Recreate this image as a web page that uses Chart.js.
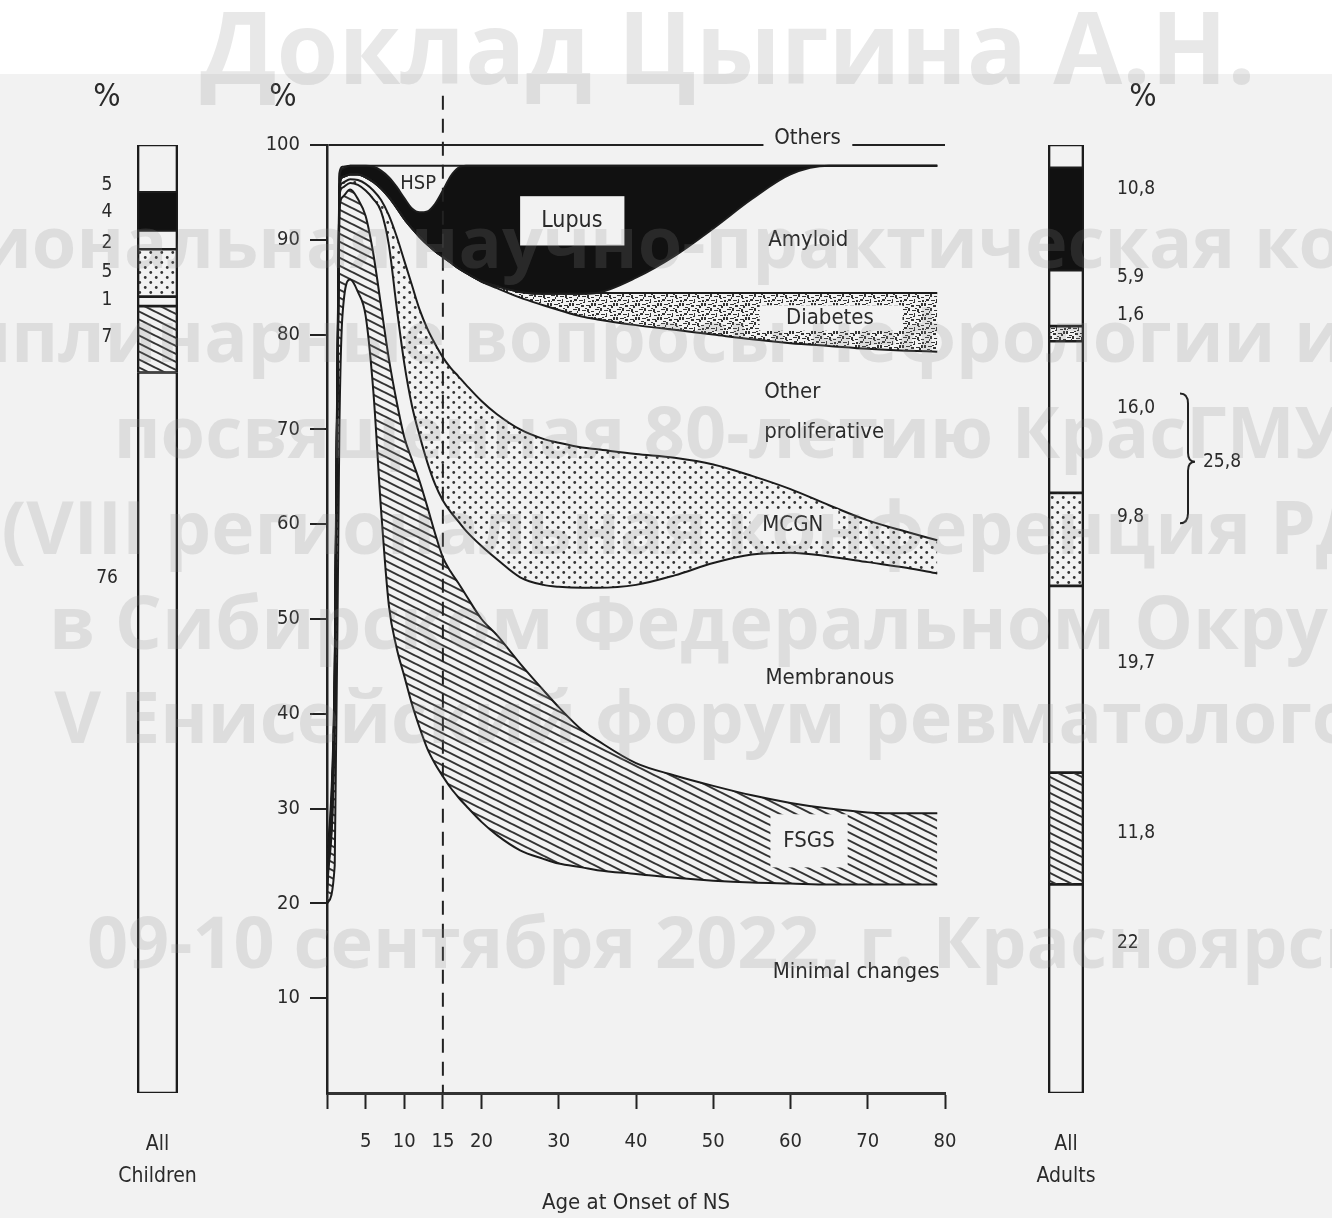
<!DOCTYPE html>
<html>
<head>
<meta charset="utf-8">
<script src="https://cdn.jsdelivr.net/npm/chart.js@4.4.1/dist/chart.umd.min.js"></script>
<style>
  html, body { margin: 0; padding: 0; }
  body { width: 1332px; height: 1218px; position: relative; overflow: hidden; background: #f2f2f2; }
  #topband { position: absolute; left: 0; top: 0; width: 1332px; height: 74px; background: #fff; }
  canvas { position: absolute; top: 0; }
  .wm { position: absolute; left: -400px; width: 2256px; text-align: center; white-space: nowrap;
        font-family: "Open Sans", "Noto Sans", sans-serif; font-weight: 700; line-height: 1;
        color: rgba(140, 140, 140, 0.2); pointer-events: none; }
</style>
</head>
<body>
<div id="topband"></div>
<canvas id="main" width="1332" height="1218" style="left:0"></canvas>
<canvas id="kids" width="180" height="1218" style="left:60px"></canvas>
<canvas id="adults" width="332" height="1218" style="left:1000px"></canvas>

<div class="wm" style="top:-5px;font-size:100px">Доклад Цыгина А.Н.</div>
<div class="wm" style="top:204px;font-size:72px">Межрегиональная научно-практическая конференция</div>
<div class="wm" style="top:298px;font-size:72px">Междисциплинарные вопросы нефрологии и ревматологии</div>
<div class="wm" style="top:394px;font-size:72px">посвященная 80-летию КрасГМУ</div>
<div class="wm" style="top:489px;font-size:73px">(VIII региональная конференция РДО)</div>
<div class="wm" style="top:584px;font-size:74px">в Сибирском Федеральном Округе</div>
<div class="wm" style="top:679px;font-size:72px">V Енисейский форум ревматологов</div>
<div class="wm" style="top:904px;font-size:72px">09-10 сентября 2022, г. Красноярск</div>

<script>
// age at onset (years)
const ages = [0, 1, 1.6, 2, 3, 4, 5, 6, 7, 8, 9, 10, 11, 12, 13, 14, 15, 16, 17, 18,
              20, 22, 25, 28, 30, 33, 35, 40, 45, 50, 55, 60, 65, 70, 75, 79];

// upper edge of each diagnosis band, cumulative % (bottom to top)
const minimalTop = [20, 24, 70, 82, 85.8, 84.5, 82, 74, 61.5, 51.5, 47, 44, 41, 38.5, 36.3, 34.7, 33.4, 32.2, 31.2, 30.3,
                    28.6, 27.2, 25.6, 24.7, 24.2, 23.8, 23.5, 23.1, 22.7, 22.4, 22.2, 22.1, 22, 22, 22, 22];
const fsgsTop = [21, 40, 93, 94.5, 95.3, 94.3, 92.5, 88.5, 83, 77.5, 73, 69.2, 66.8, 64.5, 61.8, 59, 56.5, 55, 53.8, 52.5,
                 50, 48.3, 45.3, 42.5, 40.7, 38.3, 37.2, 34.8, 33.5, 32.4, 31.4, 30.6, 30, 29.6, 29.5, 29.5];
const membranousTop = [21.5, 41, 94.5, 95.5, 96, 95.8, 95.2, 94.3, 93, 89.5, 83, 77, 72.5, 69.3, 66.5, 64.2, 62.5, 61.3, 60.3, 59.3,
                       57.7, 56.3, 54.4, 53.6, 53.4, 53.3, 53.3, 53.6, 54.6, 55.9, 56.8, 57, 56.6, 56, 55.4, 54.8];
const mcgnTop = [22, 42, 95, 96, 96.4, 96.3, 95.9, 95.2, 94.2, 92.6, 90.4, 87.8, 85.2, 82.6, 80.6, 79, 77.6, 76.5, 75.6, 74.7,
                 73, 71.6, 70, 69, 68.6, 68.1, 67.9, 67.4, 67, 66.3, 65.1, 63.7, 62, 60.4, 59.2, 58.3];
const otherProlifTop = [22.5, 43, 95.5, 96.6, 96.9, 96.9, 96.6, 96.1, 95.4, 94.5, 93.4, 92.2, 91.2, 90.3, 89.5, 88.8, 88.2, 87.6, 87, 86.5,
                        85.6, 84.9, 83.9, 83.1, 82.6, 81.9, 81.6, 81, 80.5, 80, 79.5, 79.1, 78.8, 78.5, 78.3, 78.2];
const diabetesTop = [22.5, 43, 95.5, 96.6, 96.9, 96.9, 96.6, 96.1, 95.4, 94.5, 93.4, 92.2, 91.2, 90.3, 89.5, 88.8, 88.2, 87.6, 87, 86.5,
                     85.6, 85.1, 84.5, 84.3, 84.3, 84.3, 84.4, 84.4, 84.4, 84.4, 84.4, 84.4, 84.4, 84.4, 84.4, 84.4];
const amyloidTop = [22.5, 43, 95.5, 96.6, 96.9, 96.9, 96.6, 96.1, 95.4, 94.5, 93.4, 92.2, 91.2, 90.3, 89.5, 88.8, 88.2, 87.6, 87, 86.5,
                    85.6, 85.1, 84.5, 84.3, 84.3, 84.3, 84.4, 86, 88.3, 91.2, 94.3, 96.9, 97.8, 97.8, 97.8, 97.8];
const lupusTop = [23, 44, 96.5, 97.5, 97.8, 97.8, 97.8, 97.7, 97.3, 96.6, 95.6, 94.4, 93.3, 92.9, 93, 93.8, 95.2, 96.7, 97.6, 97.8,
                  97.8, 97.8, 97.8, 97.8, 97.8, 97.8, 97.8, 97.8, 97.8, 97.8, 97.8, 97.8, 97.8, 97.8, 97.8, 97.8];
const hspTop = [23.5, 45, 97, 97.7, 97.8, 97.8, 97.8, 97.8, 97.8, 97.8, 97.8, 97.8, 97.8, 97.8, 97.8, 97.8, 97.8, 97.8, 97.8, 97.8,
                97.8, 97.8, 97.8, 97.8, 97.8, 97.8, 97.8, 97.8, 97.8, 97.8, 97.8, 97.8, 97.8, 97.8, 97.8, 97.8];

const xTicks = [0, 5, 10, 15, 20, 30, 40, 50, 60, 70, 80];

// side columns, bottom to top
const groups = ['Minimal changes', 'FSGS', 'Membranous', 'MCGN', 'Other proliferative', 'Diabetes', 'Amyloid', 'Lupus', 'Others'];
const childValues = [76, 7, 1, 5, 2, 0, 0, 4, 5];
const adultValues = [22, 11.8, 19.7, 9.8, 16.0, 1.6, 5.9, 10.8, 2.4];
const childLabels = ['76', '7', '1', '5', '2', '', '', '4', '5'];
const adultLabels = ['22', '11,8', '19,7', '9,8', '16,0', '1,6', '5,9', '10,8', ''];
// where the printed numbers sit (in % of the column)
const childLabelAt = [54.3, 79.7, 83.6, 86.6, 89.7, null, null, 92.9, 95.8];
const adultLabelAt = [15.8, 27.4, 45.3, 60.8, 72.3, 82.1, 86.1, 95.3, null];

const FONT = '"DejaVu Sans Condensed", "Liberation Sans Narrow", "DejaVu Sans", sans-serif';
const INK = '#2a2a2a';

function tile(w, h, draw) {
  const c = document.createElement('canvas');
  c.width = w; c.height = h;
  const g = c.getContext('2d');
  draw(g);
  return g.createPattern(c, 'repeat');
}
const hatch = tile(16, 8, g => {
  g.strokeStyle = '#333'; g.lineWidth = 2;
  for (let k = -1; k <= 1; k++) {
    g.beginPath(); g.moveTo(-4, -2 + 8 * k); g.lineTo(20, 10 + 8 * k); g.stroke();
  }
});
const dots = tile(11, 10, g => {
  g.fillStyle = '#333';
  g.beginPath(); g.arc(2.75, 2.5, 1.4, 0, Math.PI * 2); g.fill();
  g.beginPath(); g.arc(8.25, 7.5, 1.4, 0, Math.PI * 2); g.fill();
});
const speckle = tile(22, 14, g => {
  g.fillStyle = '#333';
  [[1,1,4,1],[6,0,2,3],[10,2,4,1],[15,1,2,3],[19,3,3,1],[2,5,3,2],[7,6,4,1],[12,5,1,4],[16,7,3,1],
   [0,9,2,3],[4,10,4,1],[9,11,3,2],[14,11,4,1],[19,9,2,3],[3,13,3,1],[11,8,2,1],[17,12,2,2],
   [5,3,1,2],[13,0,2,1],[20,6,2,2],[8,9,2,1],[1,7,1,1],[16,4,2,1]]
    .forEach(r => g.fillRect(r[0], r[1], r[2], r[3]));
});
const fills = [null, hatch, null, dots, null, speckle, null, '#111', null];

const bands = [minimalTop, fsgsTop, membranousTop, mcgnTop, otherProlifTop, diabetesTop, amyloidTop, lupusTop, hspTop];

function text(ctx, s, x, y, size, align) {
  ctx.font = size + 'px ' + FONT;
  ctx.fillStyle = INK;
  ctx.textAlign = align || 'center';
  ctx.textBaseline = 'middle';
  ctx.fillText(s, x, y);
}

const chartText = {
  id: 'chartText',
  afterDatasetsDraw(chart) {
    const { ctx, chartArea } = chart;
    const x = chart.scales.x, y = chart.scales.y;
    const bg = '#f2f2f2';
    ctx.save();
    // dashed line at 15 years
    ctx.strokeStyle = '#222'; ctx.lineWidth = 2; ctx.setLineDash([14, 9]);
    ctx.beginPath();
    ctx.moveTo(x.getPixelForValue(15), y.getPixelForValue(105.2));
    ctx.lineTo(x.getPixelForValue(15), chartArea.bottom);
    ctx.stroke();
    ctx.setLineDash([]);

    const box = (a0, a1, v0, v1) => {
      ctx.fillStyle = bg;
      ctx.fillRect(x.getPixelForValue(a0), y.getPixelForValue(v1),
                   x.getPixelForValue(a1) - x.getPixelForValue(a0), y.getPixelForValue(v0) - y.getPixelForValue(v1));
    };
    box(56.5, 68, 99.4, 101.4);
    text(ctx, 'Others', x.getPixelForValue(62.2), y.getPixelForValue(100.7), 22);
    text(ctx, 'HSP', x.getPixelForValue(11.8), y.getPixelForValue(95.9), 20);
    box(25, 38.5, 89.4, 94.6);
    text(ctx, 'Lupus', x.getPixelForValue(31.7), y.getPixelForValue(92), 23);
    text(ctx, 'Amyloid', x.getPixelForValue(62.3), y.getPixelForValue(90), 22);
    box(56, 74.5, 80.4, 83.1);
    text(ctx, 'Diabetes', x.getPixelForValue(65.1), y.getPixelForValue(81.7), 22);
    text(ctx, 'Other', x.getPixelForValue(56.6), y.getPixelForValue(73.9), 22, 'left');
    text(ctx, 'proliferative', x.getPixelForValue(56.6), y.getPixelForValue(69.7), 22, 'left');
    box(54.8, 66.2, 58.3, 61.6);
    text(ctx, 'MCGN', x.getPixelForValue(60.3), y.getPixelForValue(59.9), 22);
    text(ctx, 'Membranous', x.getPixelForValue(65.1), y.getPixelForValue(43.7), 22);
    box(57.4, 67.4, 23.8, 29.4);
    text(ctx, 'FSGS', x.getPixelForValue(62.4), y.getPixelForValue(26.6), 22);
    text(ctx, 'Minimal changes', x.getPixelForValue(68.5), y.getPixelForValue(12.7), 22);
    // per cent sign over the axis
    text(ctx, '%', chartArea.left - 44, y.getPixelForValue(105), 32);
    ctx.restore();
  }
};

new Chart(document.getElementById('main'), {
  type: 'line',
  data: {
    datasets: bands.map((arr, i) => ({
      label: groups[i],
      data: ages.map((a, j) => ({ x: a, y: arr[j] })),
      borderColor: '#1c1c1c',
      borderWidth: 2,
      backgroundColor: fills[i] || 'rgba(0,0,0,0)',
      fill: fills[i] ? '-1' : false,
      pointRadius: 0,
      cubicInterpolationMode: 'monotone'
    }))
  },
  options: {
    responsive: false,
    animation: false,
    layout: { padding: { left: 267, right: 387, top: 145, bottom: 2 } },
    plugins: {
      legend: { display: false },
      tooltip: { enabled: false },
      filler: { drawTime: 'beforeDatasetsDraw' }
    },
    scales: {
      x: {
        type: 'linear', min: 0, max: 80,
        afterBuildTicks: s => { s.ticks = xTicks.map(v => ({ value: v })); },
        afterFit: s => { s.height = 123; },
        ticks: { callback: v => v === 0 ? '' : v, autoSkip: false, maxRotation: 0, padding: 21,
                 color: INK, font: { family: FONT, size: 20 } },
        grid: { drawOnChartArea: false, tickLength: 16, tickWidth: 2, tickColor: '#222' },
        border: { color: '#333', width: 3 },
        title: { display: true, text: 'Age at Onset of NS', color: INK, padding: { top: 4, bottom: 0 },
                 font: { family: FONT, size: 22 } }
      },
      y: {
        min: 0, max: 100,
        afterFit: s => { s.width = 60; },
        ticks: { stepSize: 10, callback: v => v === 0 ? '' : v, padding: 10, color: INK,
                 font: { family: FONT, size: 20 } },
        grid: {
          color: c => (c.tick && c.tick.value === 100) ? '#222' : 'rgba(0,0,0,0)',
          lineWidth: 2, tickLength: 17, tickWidth: 2,
          tickColor: c => (c.tick && c.tick.value === 0) ? 'rgba(0,0,0,0)' : '#222'
        },
        border: { color: '#222', width: 2.5 }
      }
    }
  },
  plugins: [chartText]
});

function column(id, values, labels, labelAt, name, pad, side) {
  const colText = {
    id: 'colText',
    afterDatasetsDraw(chart) {
      const { ctx, chartArea } = chart;
      const y = chart.scales.y;
      const mid = (chartArea.left + chartArea.right) / 2;
      ctx.save();
      labels.forEach((s, i) => {
        if (!s) return;
        if (side === 'left') text(ctx, s, chartArea.left - 30, y.getPixelForValue(labelAt[i]), 19);
        else text(ctx, s, chartArea.right + 33, y.getPixelForValue(labelAt[i]), 19, 'left');
      });
      text(ctx, name[0], mid, chartArea.bottom + 52, 21);
      text(ctx, name[1], mid, chartArea.bottom + 84, 21);
      text(ctx, '%', side === 'left' ? chartArea.left - 30 : chartArea.right + 59, y.getPixelForValue(105), 32);
      if (side === 'right') {
        // brace grouping other proliferative + MCGN
        const x0 = chartArea.right + 96, x1 = x0 + 8, xt = x0 + 15;
        const yt = y.getPixelForValue(73.8), yb = y.getPixelForValue(60.1), ym = y.getPixelForValue(66.6);
        ctx.strokeStyle = '#222'; ctx.lineWidth = 2;
        ctx.beginPath();
        ctx.moveTo(x0, yt);
        ctx.quadraticCurveTo(x1, yt, x1, yt + 10);
        ctx.lineTo(x1, ym - 9);
        ctx.quadraticCurveTo(x1, ym, xt, ym);
        ctx.quadraticCurveTo(x1, ym, x1, ym + 9);
        ctx.lineTo(x1, yb - 10);
        ctx.quadraticCurveTo(x1, yb, x0, yb);
        ctx.stroke();
        text(ctx, '25,8', xt + 8, y.getPixelForValue(66.6), 19, 'left');
      }
      ctx.restore();
    }
  };
  return new Chart(document.getElementById(id), {
    type: 'bar',
    data: {
      labels: [name.join(' ')],
      datasets: values.map((v, i) => ({
        label: groups[i],
        data: [v],
        backgroundColor: fills[i] || 'rgba(0,0,0,0)',
        borderColor: '#1c1c1c',
        borderWidth: v ? { top: 1, bottom: 1, left: 2, right: 2 } : 0,
        borderSkipped: false,
        barPercentage: 1,
        categoryPercentage: 1
      }))
    },
    options: {
      responsive: false,
      animation: false,
      layout: { padding: pad },
      plugins: { legend: { display: false }, tooltip: { enabled: false } },
      scales: {
        x: { stacked: true, display: false },
        y: { stacked: true, min: 0, max: 100, display: false }
      }
    },
    plugins: [colText]
  });
}

column('kids', childValues, childLabels, childLabelAt, ['All', 'Children'],
       { left: 77, right: 62, top: 145, bottom: 125 }, 'left');
column('adults', adultValues, adultLabels, adultLabelAt, ['All', 'Adults'],
       { left: 48, right: 248, top: 145, bottom: 125 }, 'right');
</script>
</body>
</html>
